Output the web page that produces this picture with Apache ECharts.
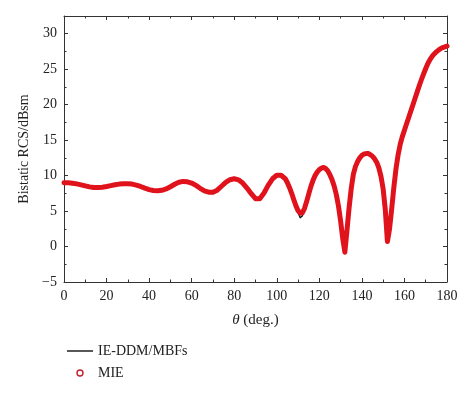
<!DOCTYPE html>
<html>
<head>
<meta charset="utf-8">
<script src="https://cdn.jsdelivr.net/npm/echarts@6/dist/echarts.min.js"></script>
<style>html,body{margin:0;padding:0;background:#fff;}#c{width:474px;height:398px;}</style>
</head>
<body>
<div id="c"></div>
<script>
var theta = [0,2,4,6,8,10,12,14,16,18,20,22,24,26,28,30,32,34,36,38,40,42,44,46,48,50,52,54,56,58,60,62,64,66,68,70,72,74,76,78,80,82,84,86,88,90,92,94,96,98,100,102,
  104,105,106,107,108,109,110,111,112,113,114,115,116,117,118,119,120,121,122,123,124,125,126,127,128,129,130,131,132,133,134,135,136,137,138,139,140,141,142,143,144,145,146,147,148,149,150,151,152,153,154,155,156,157,158,159,160,161,162,163,164,165,166,167,168,169,170,171,172,173,174,175,176,177,178,179,180];
var mieRcs = [9.00,8.98,8.93,8.83,8.70,8.55,8.41,8.31,8.31,8.36,8.46,8.59,8.71,8.80,8.85,8.85,8.80,8.66,8.47,8.23,8.02,7.89,7.86,7.93,8.12,8.43,8.78,9.06,9.18,9.13,8.95,8.62,8.21,7.85,7.66,7.65,7.95,8.50,9.05,9.42,9.55,9.40,8.95,8.25,7.45,6.75,6.75,7.55,8.65,9.55,10.05,10.05,
  9.55,9.00,8.30,7.50,6.60,5.75,5.05,4.70,4.75,5.35,6.30,7.40,8.45,9.30,10.00,10.50,10.85,11.05,11.15,11.00,10.65,10.10,9.40,8.50,7.30,5.70,3.60,1.10,-0.80,2.30,5.50,8.20,10.20,11.30,12.00,12.50,12.85,13.05,13.10,13.10,12.95,12.70,12.35,11.85,11.05,9.85,8.10,5.20,0.70,2.50,5.30,8.30,10.90,12.90,14.40,15.50,16.40,17.30,18.20,19.10,20.00,20.90,21.80,22.70,23.55,24.35,25.10,25.80,26.35,26.80,27.15,27.45,27.70,27.90,28.05,28.15,28.25];
var ddmRcs = [9.00,8.98,8.93,8.83,8.70,8.55,8.41,8.31,8.31,8.36,8.46,8.59,8.71,8.80,8.85,8.85,8.80,8.66,8.47,8.23,8.02,7.89,7.86,7.93,8.12,8.43,8.78,9.06,9.18,9.13,8.95,8.62,8.21,7.85,7.66,7.65,7.95,8.50,9.05,9.42,9.55,9.40,8.95,8.25,7.45,6.75,6.75,7.55,8.65,9.55,10.05,10.05,
  9.55,9.00,8.30,7.50,6.60,5.65,4.75,4.05,4.30,5.25,6.30,7.40,8.45,9.30,10.00,10.50,10.85,11.05,11.15,11.00,10.65,10.10,9.40,8.50,7.30,5.70,3.60,1.10,-0.80,2.30,5.50,8.20,10.20,11.30,12.00,12.50,12.85,13.05,13.10,13.10,12.95,12.70,12.35,11.85,11.05,9.85,8.10,5.20,0.70,2.50,5.30,8.30,10.90,12.90,14.40,15.50,16.40,17.30,18.20,19.10,20.00,20.90,21.80,22.70,23.55,24.35,25.10,25.80,26.35,26.80,27.15,27.45,27.70,27.90,28.05,28.15,28.25];
var xTicks = [0,20,40,60,80,100,120,140,160,180];
var yTicks = [-5,0,5,10,15,20,25,30];
var seriesNames = ['IE-DDM/MBFs','MIE'];

function pairs(xs, ys){ var out=[]; for(var i=0;i<xs.length;i++){ out.push([xs[i], ys[i]]); } return out; }

var font = 'Liberation Serif, Times New Roman, serif';
var axisCol = '#333';
var chart = echarts.init(document.getElementById('c'), null, {renderer:'canvas'});
var baseX = {
  type:'value', min:xTicks[0], max:xTicks[xTicks.length-1], interval:20,
  axisLine:{show:true, onZero:false, lineStyle:{color:axisCol, width:1}},
  axisTick:{show:true, inside:true, length:4, lineStyle:{color:axisCol}},
  minorTick:{show:true, splitNumber:2, length:2.5, lineStyle:{color:axisCol}},
  splitLine:{show:false}
};
var baseY = {
  type:'value', min:yTicks[0], max:32.5, interval:5,
  axisLine:{show:true, onZero:false, lineStyle:{color:axisCol, width:1}},
  axisTick:{show:true, inside:true, length:4, lineStyle:{color:axisCol}},
  minorTick:{show:true, splitNumber:2, length:2.5, lineStyle:{color:axisCol}},
  splitLine:{show:false}
};
chart.setOption({
  animation:false,
  backgroundColor:'#fff',
  grid:{left:64, right:27, top:16, bottom:116, containLabel:false},
  legend:{
    orient:'vertical', left:62, top:339, itemWidth:26, itemHeight:6, itemGap:8,
    textStyle:{fontFamily:font, fontSize:14, color:'#222'},
    data:[
      {name:seriesNames[0], icon:'path://M0,0 L26,0 L26,1.4 L0,1.4 Z', itemStyle:{color:'#111'}},
      {name:seriesNames[1], icon:'circle', itemStyle:{color:'#fff', borderColor:'#c0202a', borderWidth:1.4}}
    ]
  },
  xAxis:[
    Object.assign({}, baseX, {
      position:'bottom',
      name:'{i|θ} (deg.)', nameLocation:'middle', nameGap:31,
      nameTextStyle:{fontFamily:font, fontSize:15, color:'#222', rich:{i:{fontFamily:font, fontStyle:'italic', fontSize:15, color:'#222'}}},
      axisLabel:{fontFamily:font, fontSize:14, color:'#222', margin:7}
    }),
    Object.assign({}, baseX, {position:'top', axisLabel:{show:false}})
  ],
  yAxis:[
    Object.assign({}, baseY, {
      position:'left',
      name:'Bistatic RCS/dBsm', nameLocation:'middle', nameGap:33, nameRotate:90,
      nameTextStyle:{fontFamily:font, fontSize:14, color:'#222'},
      axisLabel:{fontFamily:font, fontSize:14, color:'#222', margin:7, showMaxLabel:false,
        formatter:function(v){ return v<0 ? '\u2212'+Math.abs(v) : String(v); }}
    }),
    Object.assign({}, baseY, {position:'right', axisLabel:{show:false}})
  ],
  series:[
    {name:seriesNames[0], type:'line', xAxisIndex:0, yAxisIndex:0, data:pairs(theta, ddmRcs),
     smooth:false, symbol:'none', lineStyle:{color:'#111', width:1.3, join:'round'}, itemStyle:{color:'#111'}, z:2},
    {name:seriesNames[1], type:'line', xAxisIndex:0, yAxisIndex:0, data:pairs(theta, mieRcs),
     smooth:false, symbol:'none', lineStyle:{color:'#e0121c', width:5, join:'round', cap:'round'}, itemStyle:{color:'#c0202a'}, z:3}
  ]
});
</script>
</body>
</html>
